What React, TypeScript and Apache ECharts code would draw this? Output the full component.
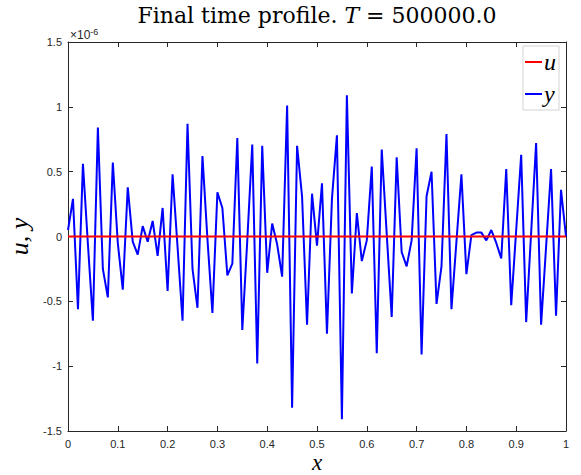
import React, { useEffect, useRef } from "react";
import * as echarts from "echarts";

// y values in units of 1e-6, sampled at x = 0, 0.01, ..., 1
const Y_VALUES: number[] = [
  0.05, 0.29, -0.56, 0.56, -0.06, -0.65, 0.84, -0.25, -0.47, 0.57,
  -0.05, -0.41, 0.38, -0.04, -0.14, 0.08, -0.04, 0.12, -0.15, 0.22,
  -0.42, 0.48, -0.08, -0.65, 0.87, -0.25, -0.55, 0.62, -0.02, -0.59,
  0.34, 0.22, -0.3, -0.21, 0.76, -0.72, -0.03, 0.71, -0.98, 0.7,
  -0.28, 0.1, -0.06, -0.31, 1.01, -1.32, 0.7, 0.31, -0.68, 0.33,
  -0.07, 0.41, -0.75, 0.29, 0.78, -1.41, 1.09, -0.44, 0.18, -0.19,
  -0.03, 0.54, -0.9, 0.67, 0.02, -0.62, 0.61, -0.12, -0.23, -0.03,
  0.68, -0.91, 0.31, 0.5, -0.52, -0.23, 0.79, -0.56, -0.04, 0.48,
  -0.29, 0.01, 0.03, 0.03, -0.03, 0.05, -0.05, -0.17, 0.52, -0.53,
  0.05, 0.63, -0.66, 0.03, 0.72, -0.68, -0.08, 0.52, -0.61, 0.36,
  0.0,
];
const U_VALUES: number[] = Y_VALUES.map(() => 0);
const N = Y_VALUES.length;
const X_MIN = 0;
const X_MAX = 1;
const X_TICK_LABELS = ["0", "0.1", "0.2", "0.3", "0.4", "0.5", "0.6", "0.7", "0.8", "0.9", "1"];
const Y_TICK_LABELS = ["-1.5", "-1", "-0.5", "0", "0.5", "1", "1.5"];
const SERIES_NAMES = ["u", "y"];

const AXIS_COLOR = "#262626";
const SANS = "'Liberation Sans', Arial, sans-serif";
const SERIF = "'Liberation Serif', 'Times New Roman', serif";
const TITLE_SERIF = "'DejaVu Serif', serif";

export default function App() {
  const ref = useRef<HTMLDivElement>(null);
  useEffect(() => {
    if (!ref.current) return;
    const chart = echarts.init(ref.current, undefined, { renderer: "svg" });
    const xs = Y_VALUES.map((_, i) => X_MIN + ((X_MAX - X_MIN) * i) / (N - 1));
    const yData = xs.map((x, i) => [x, Y_VALUES[i]]);
    const uData = xs.map((x, i) => [x, U_VALUES[i]]);
    const xLabel = (v: number) => X_TICK_LABELS[Math.round(v * 10)] ?? "";
    const yLabel = (v: number) => Y_TICK_LABELS[Math.round((v + 1.5) * 2)] ?? "";
    const baseAxis = {
      axisLine: { show: true, onZero: false, lineStyle: { color: AXIS_COLOR, width: 1 } },
      axisTick: { show: true, inside: true, length: 5, lineStyle: { color: AXIS_COLOR, width: 1 } },
      splitLine: { show: false },
    };
    chart.setOption({
      animation: false,
      backgroundColor: "#ffffff",
      grid: { left: 68, right: 15, top: 42, bottom: 44, containLabel: false, outerBoundsMode: "none" },
      graphic: [
        {
          type: "text",
          x: 317,
          y: 4,
          style: {
            text: "{a|Final time profile. }{b|T}{a| = 500000.0}",
            align: "center",
            textAlign: "center",
            rich: {
              a: { fontFamily: TITLE_SERIF, fontSize: 22, fill: "#000" },
              b: { fontFamily: TITLE_SERIF, fontSize: 22, fontStyle: "italic", fill: "#000" },
            },
          },
        },
        {
          type: "text",
          x: 70,
          y: 27,
          style: {
            text: "{a|×10}{b|-6}",
            rich: {
              a: { fontFamily: SANS, fontSize: 12, fill: AXIS_COLOR },
              b: { fontFamily: SANS, fontSize: 9, fill: AXIS_COLOR, verticalAlign: "top", padding: [0, 0, 6, 0] },
            },
          },
        },
        {
          type: "text",
          x: 317,
          y: 462,
          style: {
            text: "x",
            textAlign: "center",
            textVerticalAlign: "middle",
            fontFamily: SERIF,
            fontStyle: "italic",
            fontSize: 23,
            fill: "#000",
          },
        },
      ],
      legend: {
        data: SERIES_NAMES,
        orient: "vertical",
        right: 22,
        top: 46,
        icon: "rect",
        itemWidth: 17,
        itemHeight: 2,
        itemGap: 8,
        backgroundColor: "#ffffff",
        borderColor: "#c8c8c8",
        borderWidth: 0.8,
        borderRadius: 0,
        padding: [4, 3, 4, 2],
        textStyle: { fontFamily: SERIF, fontStyle: "italic", fontSize: 24, color: "#000", padding: [0, 0, 0, -3] },
      },
      xAxis: [
        {
          ...baseAxis,
          type: "value",
          min: 0,
          max: 1,
          interval: 0.1,
          position: "bottom",
          axisLabel: { formatter: xLabel, color: AXIS_COLOR, fontFamily: SANS, fontSize: 11, margin: 7 },
        },
        {
          ...baseAxis,
          type: "value",
          min: 0,
          max: 1,
          interval: 0.1,
          position: "top",
          axisLabel: { show: false },
        },
      ],
      yAxis: [
        {
          ...baseAxis,
          type: "value",
          min: -1.5,
          max: 1.5,
          interval: 0.5,
          position: "left",
          axisLabel: { formatter: yLabel, color: AXIS_COLOR, fontFamily: SANS, fontSize: 11, margin: 6 },
          name: "u, y",
          nameLocation: "middle",
          nameGap: 23,
          nameRotate: 90,
          nameTextStyle: { fontFamily: SERIF, fontStyle: "italic", fontSize: 26, color: "#000" },
        },
        {
          ...baseAxis,
          type: "value",
          min: -1.5,
          max: 1.5,
          interval: 0.5,
          position: "right",
          axisLabel: { show: false },
        },
      ],
      series: [
        {
          name: "u",
          type: "line",
          data: uData,
          showSymbol: false,
          symbol: "none",
          z: 3,
          lineStyle: { color: "#ff0000", width: 2 },
          itemStyle: { color: "#ff0000" },
        },
        {
          name: "y",
          type: "line",
          data: yData,
          showSymbol: false,
          symbol: "none",
          z: 2,
          lineStyle: { color: "#0000ff", width: 2 },
          itemStyle: { color: "#0000ff" },
        },
      ],
    });
    return () => chart.dispose();
  }, []);
  return (
    <div
      ref={ref}
      style={{ position: "fixed", left: 0, top: 0, width: 581, height: 475, background: "#fff" }}
    />
  );
}
